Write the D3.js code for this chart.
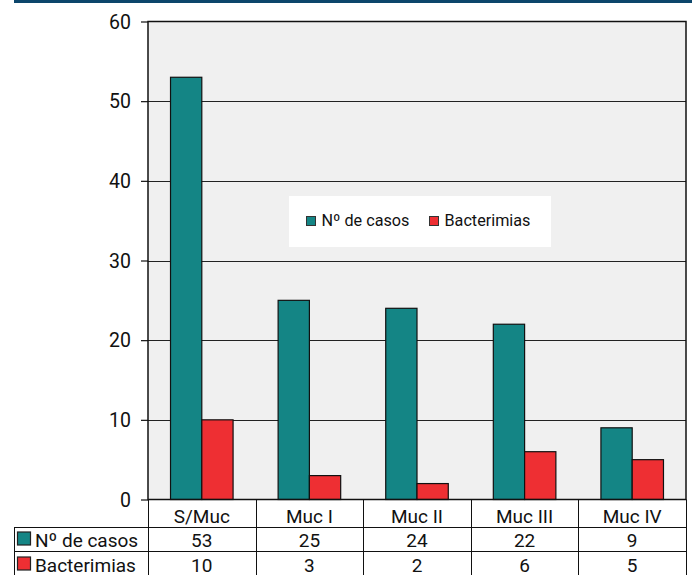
<!DOCTYPE html>
<html><head><meta charset="utf-8">
<script src="https://cdn.jsdelivr.net/npm/d3@7"></script>
<style>body{margin:0;background:#fff;}svg{display:block;font-family:Roboto,"Noto Sans",sans-serif;}</style>
</head><body>
<script>
const categories = ["S/Muc","Muc I","Muc II","Muc III","Muc IV"];
const seriesNames = ["Nº de casos","Bacterimias"];
const casos = [53,25,24,22,9];
const bacterimias = [10,3,2,6,5];
const yTicks = [0,10,20,30,40,50,60];
const colors = ["#148585","#ee2f33"];
const series = [casos, bacterimias];

const W=692,H=575;
const svg=d3.select("body").append("svg").attr("width",W).attr("height",H);
const pL=148,pR=686,pT=21.5,pB=499.5;

svg.append("rect").attr("x",14).attr("y",0).attr("width",W-14).attr("height",3).attr("fill","#0c466b");

const x=d3.scaleBand().domain(categories).range([pL,pR]);
const y=d3.scaleLinear().domain([0,60]).range([pB,pT]);
const xs=d3.scaleBand().domain(seriesNames).range([0,x.bandwidth()]).paddingInner(0).paddingOuter(0.72);

svg.append("rect").attr("x",pL).attr("y",pT).attr("width",pR-pL).attr("height",pB-pT).attr("fill","#f0f0f0");

// gridlines
svg.append("g").selectAll("line").data(yTicks.filter(d=>d>0&&d<60)).join("line")
 .attr("x1",pL).attr("x2",pR).attr("y1",d=>Math.round(y(d))+0.5).attr("y2",d=>Math.round(y(d))+0.5)
 .attr("stroke","#222").attr("stroke-width",1);

// bars
series.forEach((vals,si)=>{
  svg.append("g").selectAll("rect").data(vals).join("rect")
   .attr("x",(d,i)=>x(categories[i])+xs(seriesNames[si]))
   .attr("y",d=>y(d)).attr("width",xs.bandwidth()).attr("height",d=>pB-y(d))
   .attr("fill",colors[si]).attr("stroke","#111").attr("stroke-width",1.2);
});

// plot border
svg.append("rect").attr("x",pL).attr("y",pT).attr("width",pR-pL).attr("height",pB-pT)
 .attr("fill","none").attr("stroke","#111").attr("stroke-width",1.5);

// y axis
const yAxis=d3.axisLeft(y).tickValues(yTicks).tickSize(7).tickPadding(10);
const ga=svg.append("g").attr("transform",`translate(${pL},0)`).call(yAxis);
ga.select(".domain").remove();
ga.selectAll(".tick line").attr("stroke","#111").attr("stroke-width",1.2);
ga.selectAll(".tick text").attr("font-size",19.5).attr("fill","#111").attr("font-family","Roboto,sans-serif").attr("dy","0.34em");

// legend box
const lg=svg.append("g");
lg.append("rect").attr("x",289).attr("y",196).attr("width",262).attr("height",51).attr("fill","#fff");
const lgx=[306.5,429.5];
seriesNames.forEach((n,i)=>{
  lg.append("rect").attr("x",lgx[i]).attr("y",216.5).attr("width",9).attr("height",9).attr("fill",colors[i]).attr("stroke","#333").attr("stroke-width",1);
  lg.append("text").attr("x",lgx[i]+15).attr("y",226).attr("font-size",16.2).attr("fill","#111").text(n);
});

// data table
const tb=svg.append("g");
const bounds=categories.map(c=>x(c)).concat([pR]);
tb.selectAll("line.v").data(bounds).join("line").attr("class","v")
 .attr("x1",d=>Math.round(d)+0.5).attr("x2",d=>Math.round(d)+0.5).attr("y1",pB).attr("y2",H)
 .attr("stroke","#111").attr("stroke-width",1);
tb.append("line").attr("x1",14.5).attr("x2",14.5).attr("y1",527).attr("y2",H).attr("stroke","#111");
[527,551].forEach(yy=>tb.append("line").attr("x1",14).attr("x2",pR).attr("y1",yy+0.5).attr("y2",yy+0.5).attr("stroke","#111"));
tb.selectAll("text.h").data(categories).join("text").attr("class","h")
 .attr("x",d=>x(d)+x.bandwidth()/2).attr("y",522.5).attr("text-anchor","middle").attr("font-size",19).attr("fill","#111").text(d=>d);
series.forEach((vals,si)=>{
  const by=[546.5,571.5][si];
  tb.selectAll("text.r"+si).data(vals).join("text").attr("class","r"+si)
   .attr("x",(d,i)=>x(categories[i])+x.bandwidth()/2).attr("y",by).attr("text-anchor","middle")
   .attr("font-size",19).attr("fill","#111").text(d=>d);
  tb.append("rect").attr("x",17.5).attr("y",by-14.5).attr("width",13).attr("height",13)
   .attr("fill",colors[si]).attr("stroke","#222").attr("stroke-width",1.2);
  tb.append("text").attr("x",35).attr("y",by).attr("font-size",19).attr("fill","#111").text(seriesNames[si]);
});
</script>
</body></html>
